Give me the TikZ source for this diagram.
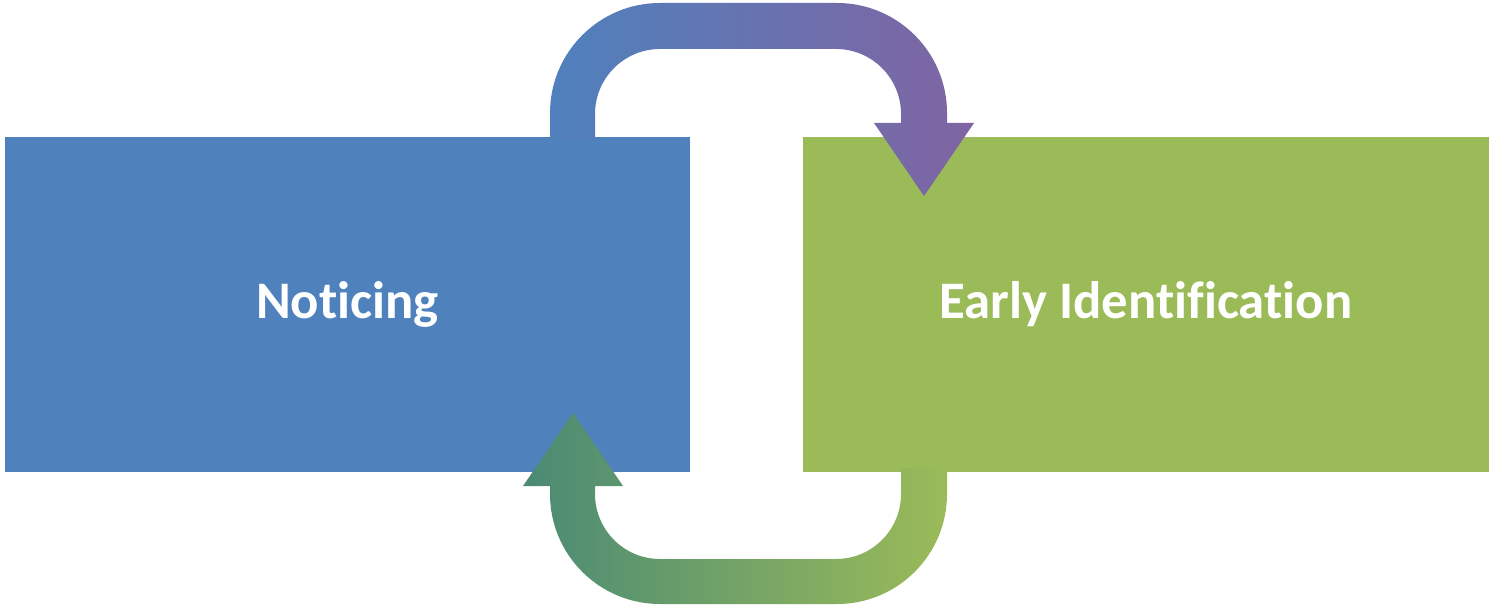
\documentclass[tikz,border=0pt]{standalone}
\usepackage{fontspec}
\setmainfont[Ligatures = NoCommon]{Carlito}
\usetikzlibrary{positioning}

\definecolor{boxblue}{HTML}{4F81BD}
\definecolor{boxgreen}{HTML}{9BBB59}
\definecolor{loopviolet}{HTML}{8064A2}
\definecolor{loopteal}{HTML}{4A8A74}

\tikzset{
	stagebox/.style = {rectangle, inner sep = 0pt, minimum height = 3.35cm,
		text = white, font = \bfseries\fontsize{15}{18}\selectfont}
}

\begin{document}
\begin{tikzpicture}[x = 0.01cm, y = 0.01cm]

	\useasboundingbox (0, 0) rectangle (1489, 606);

	% The two stages
	
	\node [stagebox, fill = boxblue, minimum width = 6.85cm] (noticing) at (347.5, 301.5) {Noticing};
	\node [stagebox, fill = boxgreen, minimum width = 6.86cm] (early) at (1146, 301.5) {Early Identification};

	% The loop between them
	
	\begin{scope}
	
		\shade [left color = boxblue, right color = loopviolet]
			(550, 465) -- (550, 493) arc [start angle = 180, end angle = 90, radius = 110]
			-- (837, 603) arc [start angle = 90, end angle = 0, radius = 110]
			-- (947, 483) -- (974, 483) -- (924, 410) -- (874, 483) -- (901, 483)
			-- (901, 492) arc [start angle = 0, end angle = 90, radius = 65]
			-- (660, 557) arc [start angle = 90, end angle = 180, radius = 65]
			-- (595, 465) -- cycle;
		
		\shade [left color = loopteal, right color = boxgreen]
			(947, 138) -- (947, 112) arc [start angle = 0, end angle = -90, radius = 110]
			-- (660, 2) arc [start angle = 270, end angle = 180, radius = 110]
			-- (550, 120) -- (523, 120) -- (573, 193) -- (623, 120) -- (595, 120)
			-- (595, 112) arc [start angle = 180, end angle = 270, radius = 65]
			-- (836, 47) arc [start angle = 270, end angle = 360, radius = 65]
			-- (901, 138) -- cycle;
		
	\end{scope}

\end{tikzpicture}
\end{document}
